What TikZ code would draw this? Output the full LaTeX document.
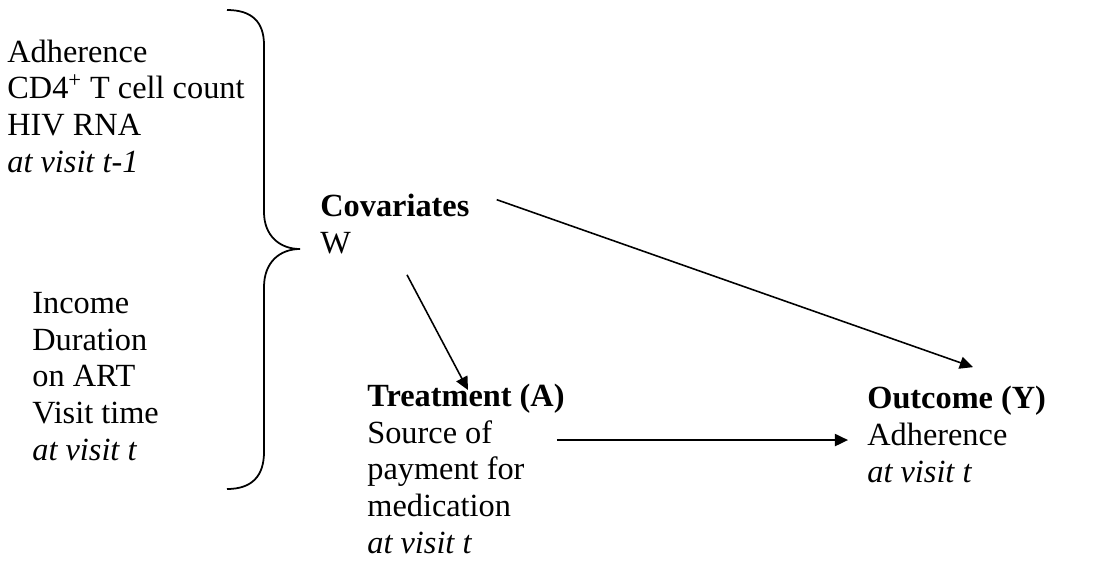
\documentclass[tikz,border=0pt]{standalone}
\usepackage{fontspec}
\setmainfont{Liberation Serif}
\usetikzlibrary{arrows.meta, calc}

\begin{document}
\begin{tikzpicture}[x=0.02cm,y=-0.02cm,
    var/.style={inner sep=0pt, anchor=base west, align=left, font={\fontsize{18.4}{20.8}\selectfont}},
    arr/.style={-{Triangle[length=7.5pt,width=7pt]}, line width=0.9pt},
    brace/.style={line width=1pt}]
  \useasboundingbox (0,0) rectangle (1100,562);
  \node[var] (prev) at (7,172) {Adherence\\CD4\textsuperscript{+} T cell count\\HIV RNA\\\textit{at visit t-1}};
    \node[var] (curr) at (32,460) {Income\\Duration\\on ART\\Visit time\\\textit{at visit t}};
  \node[var] (cov) at (320,253) {\textbf{Covariates}\\W};
    \node[var] (trt) at (367,553) {\textbf{Treatment (A)}\\Source of\\payment for\\medication\\\textit{at visit t}};
    \node[var] (out) at (867,482) {\textbf{Outcome (Y)}\\Adherence\\\textit{at visit t}};
  \draw[brace] (227,10) .. controls (252,10) and (264,22) .. (264,45) -- (264,212)
    .. controls (264,236) and (280,249) .. (300,249)
    .. controls (280,249) and (264,262) .. (264,287) -- (264,452)
    .. controls (264,476) and (252,489) .. (227,489);
  \coordinate (pay) at ($(trt.north east)+(-8,56)$);
  \draw[arr] ($(cov.north east)+(27,6)$) -- ($(out.north west)+(106,-19)$);
  \draw[arr] ($(cov.south west)+(87,21)$) -- ($(trt.north west)+(101,6)$);
  \draw[arr] (pay) -- ($(pay -| out.west)+(-19,0)$);
\end{tikzpicture}
\end{document}
